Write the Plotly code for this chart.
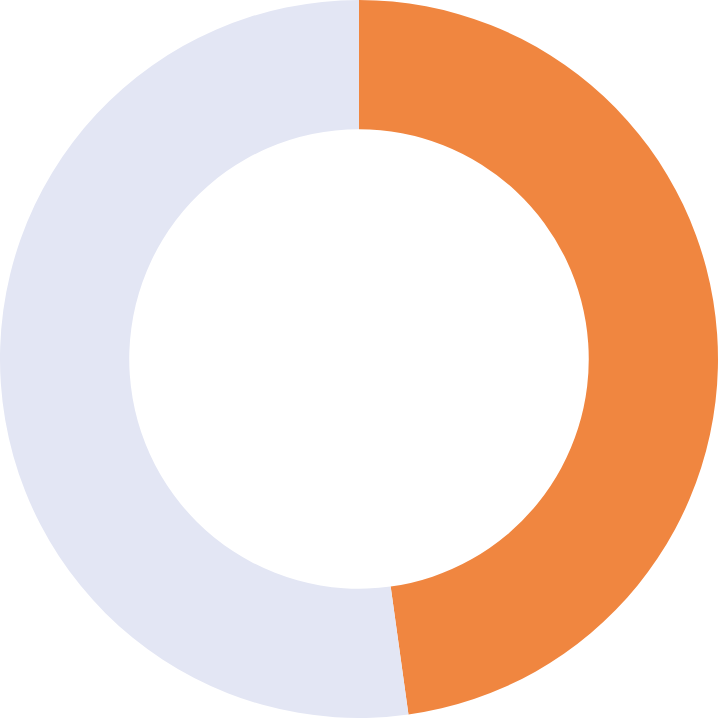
import plotly.graph_objects as go

labels = ["Value", "Remainder"]
values = [47.8, 52.2]
colors = ["#F08640", "#E3E6F4"]

fig = go.Figure(go.Pie(
    labels=labels,
    values=values,
    hole=0.64,
    sort=False,
    direction="clockwise",
    rotation=0,
    marker=dict(colors=colors, line=dict(width=0)),
    textinfo="none",
    hoverinfo="label+percent",
))
fig.update_layout(
    width=718, height=718,
    margin=dict(l=0, r=0, t=0, b=0),
    showlegend=False,
    paper_bgcolor="white",
    plot_bgcolor="white",
)
fig.write_html(
    "out.html",
    config={"displayModeBar": False},
    post_script="document.body.style.margin='0';document.body.style.overflow='hidden';",
)
